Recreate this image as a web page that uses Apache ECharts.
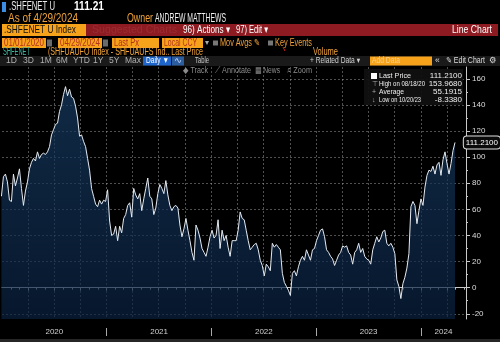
<!DOCTYPE html>
<html><head><meta charset="utf-8">
<script src="https://cdn.jsdelivr.net/npm/echarts@6/dist/echarts.min.js"></script>
<style>html,body{margin:0;padding:0;background:#000;}#c{width:500px;height:342px;}</style>
</head><body><div id="c"></div>
<script>
// ---------- data ----------
const ticker = '.SHFENET U';
const lastPx = 111.21;
const endDate = '2024-04-29';          // last weekly observation
const stepDays = 7;                     // weekly readings
const values = [
  70,85,87,81,67,66,87,78,84,91,
  76,63,74,81,91,96,99,97,104,99,
  102,103,102,104,108,117,121,125,126,135,
  140,148,153.968,147,152,146,145,139,130,116,
  117,112,108,99,90,76,70,64,62,67,
  64,67,66,75,51,40,41,47,36,47,
  42,53,56,63,65,54,76,71,68,72,
  59,68,76,84,70,68,56,61,72,79,
  76,72,82,71,63,59,62,63,61,48,
  39,45,53,44,36,27,21,48,44,38,
  30,27,24,31,39,44,38,40,52,30,
  44,36,40,31,24,36,36,36,44,58,
  53,52,44,36,29,31,33,34,29,21,
  17,9,18,16,13,34,31,33,31,29,
  11,4,1,-2,-6,11,13,9,16,21,
  24,21,29,25,21,29,30,36,40,44,
  45,39,29,27,24,22,17,21,25,27,
  32,31,32,27,25,18,27,29,34,27,
  30,24,22,21,18,29,34,39,35,38,
  43,44,34,32,34,31,26,6,1,-8.338,
  3,8,15,26,62,66,63,49,59,68,
  63,77,86,90,89,93,87,94,96,86,
  98,104,95,87,95,105,111.21
];
const yLabelValues = [-20,0,20,40,60,80,100,120,140,160];
const yMinorValues = [-20,-10,0,10,20,30,40,50,60,70,80,90,100,110,120,130,140,150,160];
const years = [2020,2021,2022,2023,2024];
const legendRows = [
  ['Last Price','111.2100'],
  ['High on 08/18/20','153.9680'],
  ['Average','55.1915'],
  ['Low on 10/20/23','-8.3380']
];
const periods = ['1D','3D','1M','6M','YTD','1Y','5Y','Max'];

// ---------- helpers ----------
function decYear(t){ const d=new Date(t); const y=d.getUTCFullYear(); const s=Date.UTC(y,0,1), e=Date.UTC(y+1,0,1); return y+(t-s)/(e-s); }
const endT = Date.parse(endDate+'T00:00:00Z');
const seriesData = values.map((v,i)=>[decYear(endT-(values.length-1-i)*stepDays*864e5), v]);
const xMin = 2020, xMax = 2024.43;
const quarterTicks=[], monthTicks=[];
years.forEach(y=>{ for(let m=0;m<12;m++){ const v=decYear(Date.UTC(y,m,1)); if(v>xMin && v<xMax){ monthTicks.push(v); if(m%3===0) quarterTicks.push(v);} } });
const yearSep = years.slice(1);
const yearLabelPos = years.map(y=> (y+0.5<xMax)? y+0.5 : (y+xMax)/2);

const mctx = document.createElement('canvas').getContext('2d');
function txt(x, yc, s, color, size, w, opt){
  opt = opt||{};
  const font = (opt.bold?'bold ':'') + size + 'px "Liberation Sans", "DejaVu Sans", sans-serif';
  mctx.font = font;
  const mw = mctx.measureText(s).width;
  return {type:'text', x:x, y:yc, scaleX: w? w/mw : 1, z:100, silent:true,
    style:{text:s, fill:color, font:font, align:opt.align||'left', verticalAlign:'middle'}};
}
function rect(x,y,w,h,fill){ return {type:'rect', shape:{x:x,y:y,width:w,height:h}, style:{fill:fill}, z:99, silent:true}; }

const AMBER='#f0a23a', ORANGE='#f7a21b', BOXTXT='#b3301c', GREY='#8c8c8c';
const g = [];
// row 1
g.push(rect(2,2,4,10,'#3a8ee6'));
g.push(txt(9,7,ticker,'#ececec',12,46));
g.push(txt(74,7,lastPx.toFixed(2),'#ffffff',12,30,{bold:true}));
// row 2
g.push(txt(8,19,'As of 4/29/2024',AMBER,12,70));
g.push(txt(127,19,'Owner',AMBER,12,26));
g.push(txt(155,19,'ANDREW MATTHEWS','#f0f0f0',12,71));
// row 3
g.push(rect(2,24,84,12,ORANGE));
g.push(txt(4,30,'.SHFENET U Index','#111111',11,72));
g.push(rect(86,24,412,12,'#8d1b21'));
g.push(txt(92,30,'Suggested Charts','#9b2c34',11,85));
g.push(txt(183,30,'96) Actions \u25BE','#ffffff',11,47));
g.push(txt(236,30,'97) Edit \u25BE','#ffffff',11,32));
g.push(txt(492,30,'Line Chart','#ffffff',11,40,{align:'right'}));
// row 4
[[2,'01/01/2020',40],[58,'04/29/2024',40]].forEach(b=>{ g.push(rect(b[0],38,44,10,ORANGE)); g.push(txt(b[0]+2,43,b[1],BOXTXT,10,40)); g.push(rect(b[0]+45,39.5,5,7,'#6a6a6a')); });
g.push(rect(112,38,47,10,ORANGE)); g.push(txt(114,43,'Last Px',BOXTXT,10,25));
g.push(rect(162,38,41,10,ORANGE)); g.push(txt(164,43,'Local CCY',BOXTXT,10,33));
g.push(txt(205,43,'\u25BE','#aaaaaa',8));
g.push(rect(213,40.5,5,5,'#777777')); g.push(txt(220,43,'Mov Avgs \u270E',AMBER,10,40));
g.push(rect(268,40.5,5,5,'#777777')); g.push(txt(275,43,'Key Events',AMBER,10,37));
// row 5
g.push(txt(3,52,'SHFENET','#3fb59f',10,27));
g.push(txt(48,52,'(SHFUAUFO Index - SHFUAUFS Ind.. Last Price',AMBER,10,155));
g.push({type:'line', shape:{x1:283,y1:47,x2:285,y2:51}, style:{stroke:'#d42020',lineWidth:1}, z:100, silent:true});
g.push(txt(313,52,'Volume',AMBER,10,25));
// row 6 toolbar
g.push(rect(0,56,500,10,'#1a1a1a'));
const px=[6,23,40,56,73,93,109,125];
periods.forEach((p,i)=>g.push(txt(px[i],61,p,'#b0b0b0',8.5)));
g.push(rect(143,56.5,28,9,'#1f66cc')); g.push(txt(146,61,'Daily \u25BC','#ffffff',8.5,23));
g.push(rect(172,56.5,12,9,'#2c5d9e')); g.push(txt(174,61,'\u223F','#cfe0ff',8,8));
g.push(txt(195,61,'Table','#c8c8c8',8.5,14));
g.push(txt(310,61,'+ Related Data \u25BE','#d0d0d0',8.5,50));
g.push(rect(370,56.5,62,9,ORANGE)); g.push(txt(372,61,'Add Data','#fbd08a',8.5,28));
g.push(txt(435,61,'\u00AB','#dddddd',8.5));
g.push(txt(446,61,'\u270E Edit Chart','#dddddd',8.5,39));
g.push(txt(489,61,'\u2699','#dddddd',8.5));
// row 7
g.push(txt(183,71,'\u25C6 Track',GREY,8.5,25));
g.push(txt(215,71,'\u27CB Annotate',GREY,8.5,36));
g.push(txt(255,71,'\u25A6 News',GREY,8.5,25));
g.push(txt(287,71,'\u2315 Zoom',GREY,8.5,25));
// legend box
g.push(rect(364,69,99,36,'rgba(16,16,16,0.93)'));
g.push(rect(371,73,6,6,'#ffffff'));
const icons=['','\u22A4','+','\u2193'];
const lw=[32,46,25,42];
legendRows.forEach((r,i)=>{
  const yc=76+i*8;
  if(icons[i]) g.push(txt(372,yc,icons[i],'#aaaaaa',7));
  g.push(txt(379,yc,r[0],'#eeeeee',8,lw[i]));
  g.push(txt(462,yc,r[1],'#eeeeee',8,null,{align:'right'}));
});
// bottom strip
g.push(rect(0,339,500,3,'#262626'));

const gridLine = {show:true, lineStyle:{color:'rgba(160,160,160,0.5)', type:[2,2], width:1}};
const font8 = {fontSize:8, fontFamily:'Liberation Sans'};

const option = {
  backgroundColor:'#000000',
  animation:false,
  grid:{left:2, right:34, top:67, bottom:23},
  xAxis:[
    {type:'value', min:xMin, max:xMax, position:'bottom',
     axisLine:{show:true, lineStyle:{color:'#c8c8c8'}},
     axisTick:{show:true, customValues:quarterTicks, length:3, lineStyle:{color:'#c8c8c8'}},
     axisLabel:Object.assign({show:true, customValues:yearLabelPos, formatter:v=>String(Math.floor(v)), color:'#d0d0d0', margin:9}, font8),
     splitLine:gridLine},
    {type:'value', min:xMin, max:xMax, position:'bottom',
     axisLine:{show:false}, axisTick:{show:true, customValues:monthTicks, length:2, lineStyle:{color:'#bbbbbb'}},
     axisLabel:{show:false}, splitLine:{show:false}},
    {type:'value', min:xMin, max:xMax, position:'bottom', offset:9,
     axisLine:{show:false}, axisTick:{show:true, customValues:yearSep, length:8, lineStyle:{color:'#aaaaaa'}},
     axisLabel:{show:false}, splitLine:{show:false}}
  ],
  yAxis:[
    {type:'value', position:'right', min:-24, max:169,
     axisLine:{show:true, lineStyle:{color:'#c8c8c8'}},
     axisTick:{show:true, customValues:yLabelValues, length:4, lineStyle:{color:'#c8c8c8'}},
     axisLabel:Object.assign({customValues:yLabelValues, color:'#dcdcdc', margin:6}, font8),
     splitLine:gridLine,
     axisPointer:{show:true, type:'line', value:lastPx, status:'show', snap:false, triggerTooltip:false,
       lineStyle:{color:'rgba(0,0,0,0)', width:0},
       label:Object.assign({show:true, formatter:()=>lastPx.toFixed(4), color:'#ffffff', backgroundColor:'#0a0a0a', borderColor:'#e0e0e0', borderWidth:1, padding:[2,2], margin:2}, font8)}},
    {type:'value', position:'right', min:-24, max:169,
     axisLine:{show:false}, axisTick:{show:true, customValues:yMinorValues, length:2, lineStyle:{color:'#c8c8c8'}},
     axisLabel:{show:false}, splitLine:{show:false}}
  ],
  series:[{
    type:'line', xAxisIndex:0, yAxisIndex:0, data:seriesData, showSymbol:false, clip:true,
    lineStyle:{color:'#e4eaf1', width:1},
    areaStyle:{origin:'start', color:new echarts.graphic.LinearGradient(0,0,0,1,[{offset:0,color:'#173b62'},{offset:1,color:'#0a2241'}])}
  }],
  graphic:g
};
const chart = echarts.init(document.getElementById('c'), null, {renderer:'canvas'});
chart.setOption(option);
</script></body></html>
